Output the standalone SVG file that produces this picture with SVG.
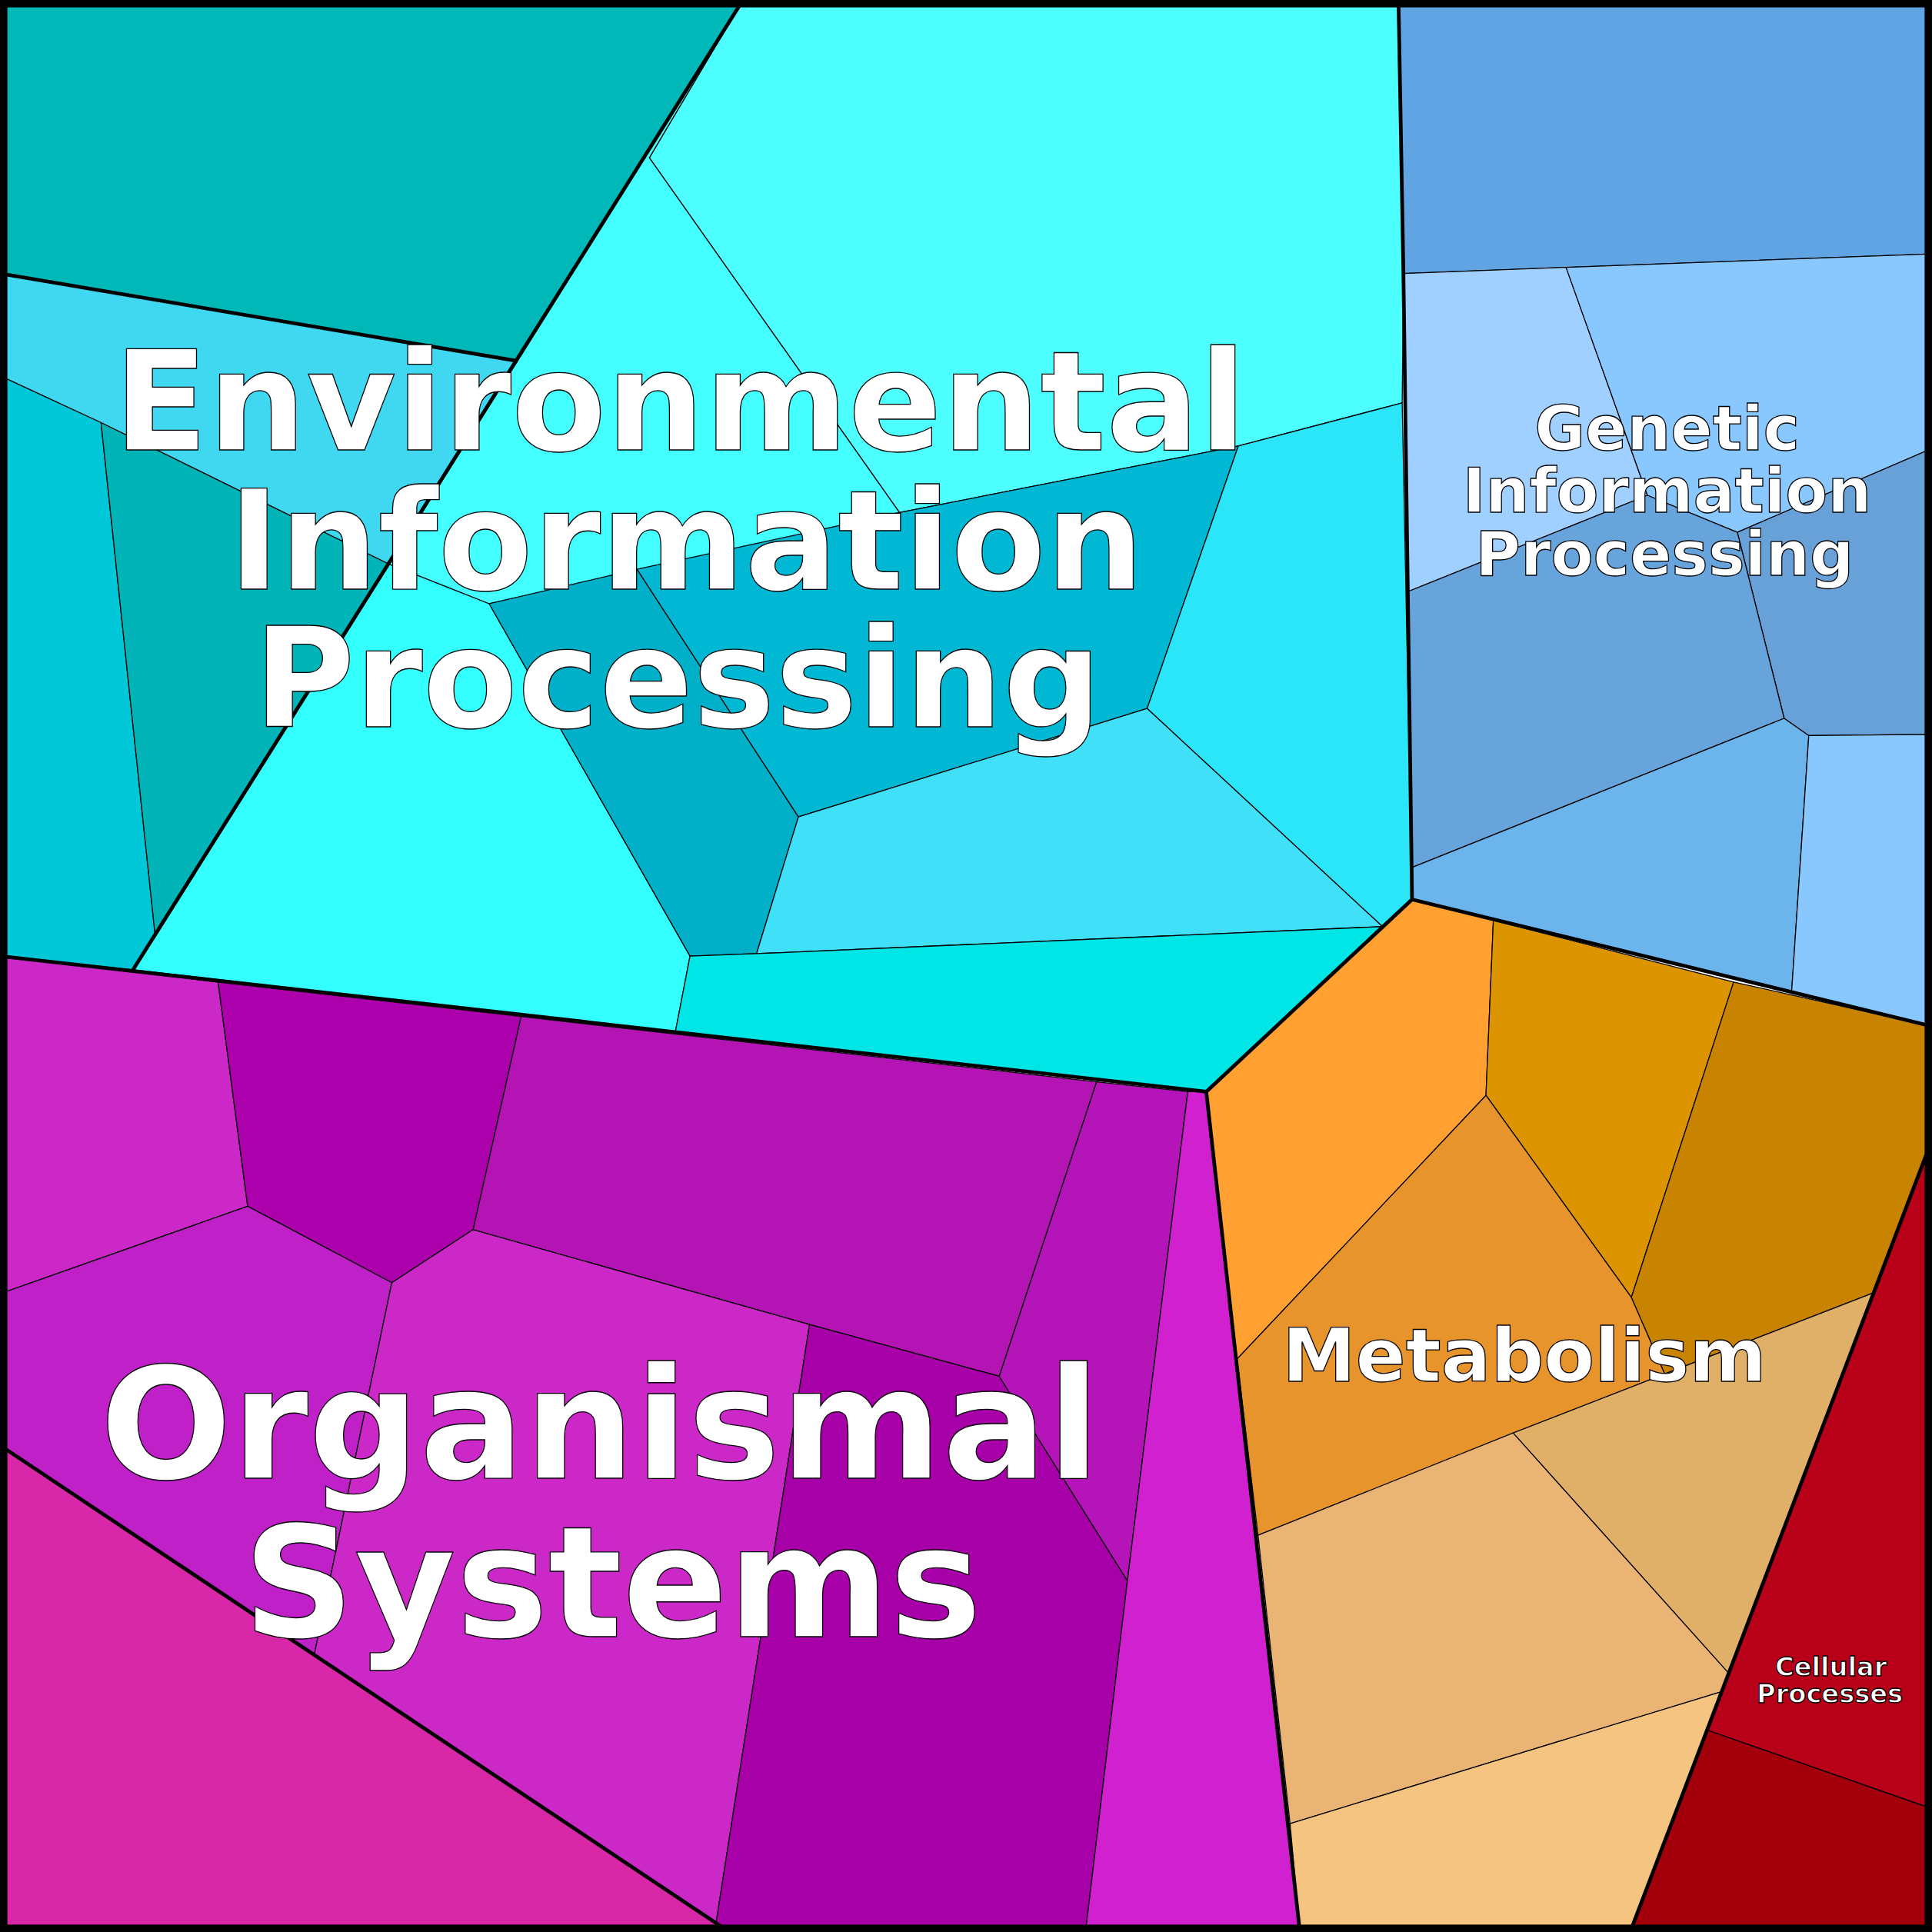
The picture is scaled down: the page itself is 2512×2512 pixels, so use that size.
<svg xmlns="http://www.w3.org/2000/svg" width="2512" height="2512" viewBox="0 0 2512 2512">
<style>
.c{stroke:#000;stroke-width:0.8;stroke-linejoin:round}
.b{fill:none;stroke:#000;stroke-width:3;stroke-linejoin:round}
.t{font-family:"DejaVu Sans",sans-serif;font-weight:bold;fill:#fff;stroke:#000;stroke-width:0.8;text-anchor:middle}
</style>
<g transform="scale(1.602041)">
<g id="env">
<polygon class="c" fill="#00b8b8" points="0,0 603,0 420,293 0,222"/>
<polygon class="c" fill="#4dffff" points="603,0 1135,0 1139,222 1138,327 1005,362 730,416 527,128"/>
<polygon class="c" fill="#40d8f0" points="0,222 420,293 316,458 82,343 0,305"/>
<polygon class="c" fill="#00c8d8" points="0,305 82,343 126,760 108,787 0,776"/>
<polygon class="c" fill="#00b4b8" points="82,343 316,458 126,760"/>
<polygon class="c" fill="#44ffff" points="603,0 527,128 730,416 397,490 316,458 420,293"/>
<polygon class="c" fill="#33ffff" points="316,458 397,490 560,776 548,838 108,787 126,760"/>
<polygon class="c" fill="#00b0c8" points="397,490 517,462 648,663 614,774 560,776"/>
<polygon class="c" fill="#00b8d4" points="517,462 730,416 1005,362 931,575 648,663"/>
<polygon class="c" fill="#2ae6f8" points="1005,362 1138,327 1146,730 1122,752 931,575"/>
<polygon class="c" fill="#40e0f8" points="648,663 931,575 1122,752 614,774"/>
<polygon class="c" fill="#00e6e6" points="560,776 614,774 1122,752 979,886 548,838"/>
</g>
<g id="gen">
<polygon class="c" fill="#60a4e4" points="1135,0 1568,0 1568,206 1139,222"/>
<polygon class="c" fill="#a0d0ff" points="1139,222 1271,217 1337,402 1143,480"/>
<polygon class="c" fill="#88c8ff" points="1271,217 1568,206 1568,364 1410,432 1337,402"/>
<polygon class="c" fill="#68a0d8" points="1568,364 1568,596 1468,597 1448,583 1410,432"/>
<polygon class="c" fill="#68a4dc" points="1143,480 1337,402 1410,432 1448,583 1146,704"/>
<polygon class="c" fill="#6cb4ec" points="1146,704 1448,583 1468,597 1454,806 1146,730"/>
<polygon class="c" fill="#88c8ff" points="1468,597 1568,596 1568,833 1454,806"/>
</g>
<g id="met">
<polygon class="c" fill="#ffa030" points="979,886 1146,730 1212,747 1206,889 1004,1103"/>
<polygon class="c" fill="#dc9400" points="1212,747 1407,797 1324,1053 1206,889"/>
<polygon class="c" fill="#c88400" points="1407,797 1568,833 1568,925 1521,1049 1351,1115 1324,1053"/>
<polygon class="c" fill="#e8942c" points="1206,889 1324,1053 1351,1115 1021,1246 1004,1103"/>
<polygon class="c" fill="#e0b068" points="1228,1163 1521,1049 1403,1358"/>
<polygon class="c" fill="#eab474" points="1021,1246 1228,1163 1403,1358 1397,1373 1047,1480"/>
<polygon class="c" fill="#f4c480" points="1047,1480 1397,1373 1323,1568 1055,1568"/>
</g>
<g id="cel">
<polygon class="c" fill="#b80018" points="1568,925 1568,1468 1385,1404"/>
<polygon class="c" fill="#a4000c" points="1385,1404 1568,1468 1568,1568 1323,1568"/>
</g>
<g id="org">
<polygon class="c" fill="#cc28c8" points="0,776 177,797 201,979 0,1050"/>
<polygon class="c" fill="#ac00ac" points="177,797 423,825 384,998 318,1041 201,979"/>
<polygon class="c" fill="#b414b4" points="423,825 890,878 811,1117 657,1075 384,998"/>
<polygon class="c" fill="#c020c8" points="0,1050 201,979 318,1041 255,1343 0,1173"/>
<polygon class="c" fill="#d828a8" points="0,1173 592,1568 0,1568"/>
<polygon class="c" fill="#cc28c8" points="318,1041 384,998 657,1075 580,1568 592,1568 255,1343"/>
<polygon class="c" fill="#a800a8" points="657,1075 811,1117 915,1283 881,1568 580,1568"/>
<polygon class="c" fill="#b414b8" points="811,1117 890,878 964,886 915,1283"/>
<polygon class="c" fill="#d020d0" points="964,886 979,886 1055,1568 881,1568 915,1283"/>
</g>
<g id="connectors">
<polyline class="b" points="603,0 108,787"/>
<polyline class="b" points="0,222 420,293"/>
<polyline class="b" points="0,1173 592,1568"/>
<polyline class="b" points="1135,0 1139,222 1146,730 1568,833"/>
<polyline class="b" stroke-width="4" points="0,776 979,886 1146,730"/>
<polyline class="b" stroke-width="4" points="979,886 1055,1568"/>
<polyline class="b" stroke-width="4" points="1568,925 1323,1568"/>
<rect x="3" y="3" width="1562" height="1562" fill="none" stroke="#000" stroke-width="6"/>
</g>
<g id="labels">
<text class="t" font-size="112" x="552" y="365">Environmental</text>
<text class="t" font-size="112" x="557" y="478">Information</text>
<text class="t" font-size="112" x="550" y="590">Processing</text>
<text class="t" font-size="126" x="487" y="1200">Organismal</text>
<text class="t" font-size="126" x="497" y="1328">Systems</text>
<text class="t" font-size="50" x="1353" y="365">Genetic</text>
<text class="t" font-size="50" x="1353" y="416">Information</text>
<text class="t" font-size="50" x="1351" y="467">Processing</text>
<text class="t" font-size="60" x="1237" y="1121">Metabolism</text>
<text class="t" font-size="21" stroke-width="0.4" x="1486" y="1360">Cellular</text>
<text class="t" font-size="21" stroke-width="0.4" x="1485" y="1382">Processes</text>
</g>
</g>
</svg>
